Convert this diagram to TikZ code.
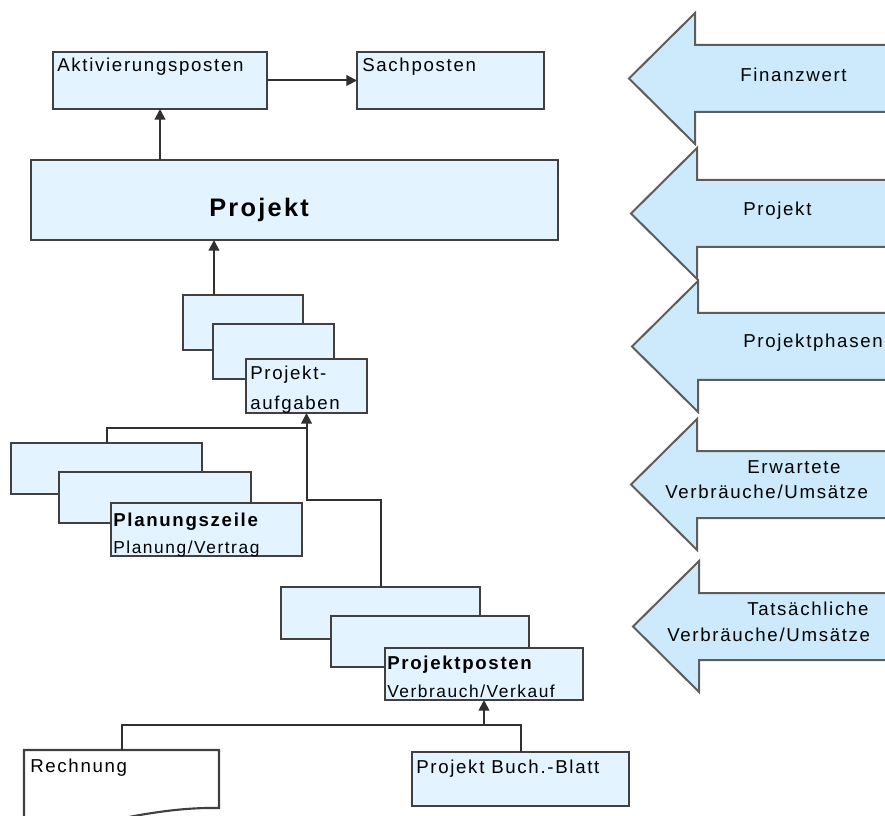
\documentclass[tikz,border=0pt]{standalone}
\usepackage{fontspec}
\setmainfont{Liberation Sans}[LetterSpace=9]
\usetikzlibrary{arrows.meta,calc}
\definecolor{boxfill}{HTML}{E3F3FF}
\definecolor{arrfill}{HTML}{CCEAFC}
\definecolor{edgecol}{HTML}{404040}
\definecolor{wirecol}{HTML}{303030}
\newcommand\tx{\fontsize{14}{17}\selectfont}
\newcommand\txs{\fontsize{13}{16}\selectfont}
\newcommand\mybox[5]{\node[box, minimum width={(#4-#2)*0.75pt}, minimum height={(#5-#3)*0.75pt}] (#1) at (#2,#3) {};}
\newcommand\bigarr[2]{\draw[bigarrow] (900,{#1-33.5}) -- ({#2+66},{#1-33.5}) -- ({#2+66},{#1-65.5}) -- (#2,#1) -- ({#2+66},{#1+65.5}) -- ({#2+66},{#1+33.5}) -- (900,{#1+33.5});}
\begin{document}
\begin{tikzpicture}[x=0.75pt,y=-0.75pt,
  box/.style={draw=edgecol,fill=boxfill,line width=1.6pt,anchor=north west,inner sep=0pt,outer sep=0pt},
  lbl/.style={anchor=base west,inner sep=0pt,font=\tx},
  bigarrow/.style={draw=edgecol!85,fill=arrfill,line width=1.5pt,line join=miter},
  line/.style={draw=wirecol,line width=1.5pt},
  arr/.style={line,-{Triangle[length=8pt,width=8pt]}}]
\useasboundingbox (0,0) rectangle (885,816);
\clip (0,0) rectangle (885,816);

% right-hand arrows
\bigarr{78.5}{629}
\bigarr{213.5}{631}
\bigarr{346.5}{632}
\bigarr{484.5}{631}
\bigarr{626.5}{633}
\node[lbl] (t1) at (740,82) {Finanzwert};
\node[lbl] (t2) at (743,216) {Projekt};
\node[lbl] (t3) at (743,348) {Projektphasen};
\node[lbl] (t4a) at (747,473) {Erwartete};
\node[lbl] (t4b) at (665,498) {Verbräuche/Umsätze};
\node[lbl] (t5a) at (747,615) {Tatsächliche};
\node[lbl] (t5b) at (667,641) {Verbräuche/Umsätze};

% boxes
\mybox{aktiv}{53}{52}{267}{109}
\mybox{sach}{357}{52}{544}{109}
\mybox{projekt}{31}{160}{558}{240}
\mybox{paA}{183}{295}{303}{350}
\mybox{paB}{213}{324}{334}{379}
\mybox{paC}{246}{359}{367}{413}
\mybox{plA}{11}{443}{202}{494}
\mybox{plB}{59}{472}{251}{523}
\mybox{plC}{111}{503}{302}{556}
\mybox{ppA}{281}{587}{480}{639}
\mybox{ppB}{331}{616}{529}{667}
\mybox{ppC}{385}{648}{583}{700}
\mybox{buch}{412}{752}{629}{806}
\node[box,draw=none,fill=none,minimum width={195*0.75pt},minimum height={58*0.75pt}] (rech) at (24,750) {};
\draw[draw=edgecol,fill=white,line width=1.6pt] (rech.north west) -- (rech.north east) -- (rech.south east)
  .. controls (170,807) and (120,818) .. (60,832) -- (24,838) -- cycle;

% labels
\node[lbl] (l1) at ($(aktiv.north west)+(4,20)$) {Aktivierungsposten};
\node[lbl] (l2) at ($(sach.north west)+(5,20)$) {Sachposten};
\node[lbl,font=\bfseries\fontsize{19}{23}\selectfont] (l3) at ($(projekt.north west)+(178,57)$) {Projekt};
\node[lbl] (l4) at ($(paC.north west)+(4,21)$) {Projekt-};
\node[lbl] (l5) at ($(paC.north west)+(4,51)$) {aufgaben};
\node[lbl,font=\tx\bfseries] (l6) at ($(plC.north west)+(2,23)$) {Planungszeile};
\node[lbl,font=\txs] (l7) at ($(plC.north west)+(2,50)$) {Planung/Vertrag};
\node[lbl,font=\tx\bfseries] (l8) at ($(ppC.north west)+(2,21)$) {Projektposten};
\node[lbl,font=\txs] (l9) at ($(ppC.north west)+(2,49)$) {Verbrauch/Verkauf};
\node[lbl] (l10) at ($(rech.north west)+(6,22)$) {Rechnung};
\node[lbl] (l11) at ($(buch.north west)+(4,21)$) {Projekt Buch.-Blatt};

% connectors
\draw[arr] (aktiv.east) -- (sach.west);
\draw[arr] (aktiv.south |- projekt.north) -- (aktiv.south);
\coordinate (paIn) at ($(paA.north west)+(31,0)$);
\draw[arr] (paIn) -- (paIn |- projekt.south);
\draw[arr] (ppA.north) |- ($(paC.south)+(0,87)$) -- (paC.south);
\draw[line] (plA.north) |- ($(paC.south)+(0,15)$);
\coordinate (ppIn) at ($(ppC.south)+(0,25)$);
\draw[line] (rech.north) |- (ppIn) -| (buch.north);
\draw[arr] (ppIn) -- (ppC.south);
\end{tikzpicture}
\end{document}
